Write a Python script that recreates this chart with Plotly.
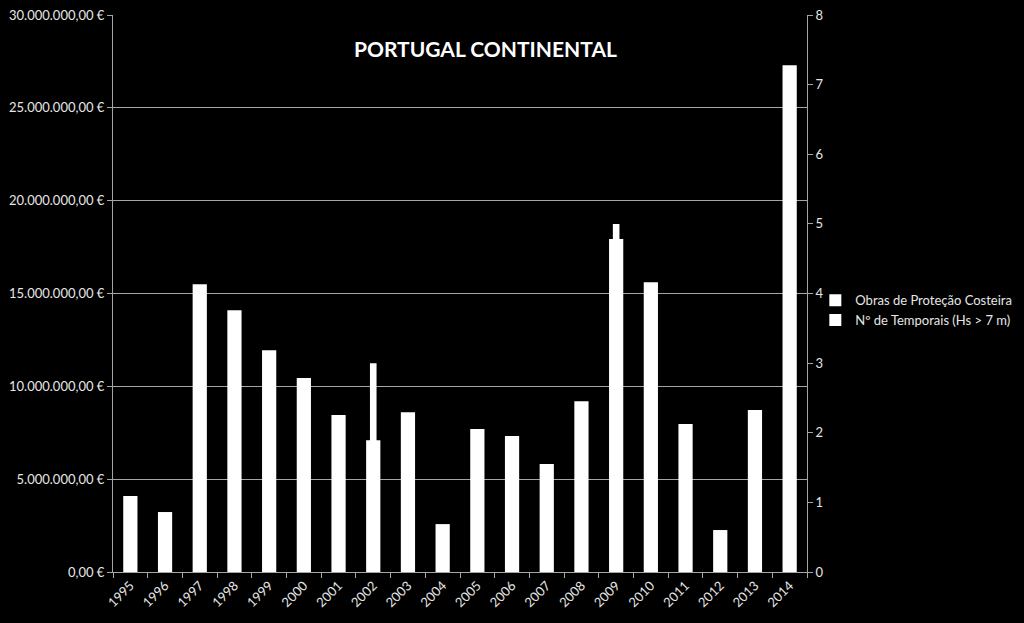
import plotly.graph_objects as go

years = [str(y) for y in range(1995, 2015)]
obras = [4.09e6, 3.23e6, 15.5e6, 14.1e6, 11.95e6, 10.45e6, 8.45e6, 7.1e6, 8.6e6, 2.58e6,
         7.7e6, 7.32e6, 5.82e6, 9.2e6, 17.93e6, 15.6e6, 7.97e6, 2.26e6, 8.72e6, 27.3e6]
temporais = [1, 0, 2, 3, 3, 2, 1, 3, 2, 0, 1, 1, 1, 2, 5, 3, 2, 0, 2, 6]

left_ticks = [0, 5e6, 10e6, 15e6, 20e6, 25e6, 30e6]
left_labels = ["0,00 €", "5.000.000,00 €", "10.000.000,00 €", "15.000.000,00 €",
               "20.000.000,00 €", "25.000.000,00 €", "30.000.000,00 €"]

font_fam = "Lato, 'Open Sans', sans-serif"
txt = "#e6e6e6"
line_c = "#a6a6a6"

fig = go.Figure()
fig.add_trace(go.Bar(x=years, y=obras, name="Obras de Proteção Costeira",
                     marker=dict(color="white", line=dict(width=0)), width=0.41,
                     yaxis="y"))
fig.add_trace(go.Bar(x=years, y=temporais, name="Nº de Temporais (Hs > 7 m)",
                     marker=dict(color="white", line=dict(width=0)), width=0.19,
                     yaxis="y2"))

fig.update_layout(
    width=1024, height=623,
    paper_bgcolor="black", plot_bgcolor="black",
    margin=dict(l=113, r=217, t=15, b=51, autoexpand=False),
    barmode="overlay",
    showlegend=True,
    legend=dict(x=1.012, y=0.47, xanchor="left", yanchor="middle",
                font=dict(family=font_fam, size=13, color=txt),
                bgcolor="rgba(0,0,0,0)", itemsizing="constant",
                itemwidth=30, tracegroupgap=10),
    font=dict(family=font_fam, color=txt, size=12),
    xaxis=dict(type="category", tickangle=-45, tickson="boundaries",
               ticks="outside", ticklen=5, tickcolor=line_c,
               showline=True, linecolor=line_c, linewidth=1,
               showgrid=False, tickfont=dict(family=font_fam, size=13, color=txt)),
    yaxis=dict(range=[0, 30e6], tickvals=left_ticks, ticktext=left_labels,
               ticks="outside", ticklen=5, tickcolor=line_c,
               showline=True, linecolor=line_c, linewidth=1,
               showgrid=True, gridcolor=line_c, gridwidth=1, zeroline=False,
               tickfont=dict(family=font_fam, size=13, color=txt)),
    yaxis2=dict(range=[0, 8], overlaying="y", side="right", dtick=1,
                ticks="outside", ticklen=5, tickcolor=line_c,
                showline=True, linecolor=line_c, linewidth=1,
                showgrid=False, zeroline=False,
                tickfont=dict(family=font_fam, size=13, color=txt)),
    annotations=[dict(text="<b>PORTUGAL CONTINENTAL</b>", x=(485 - 113) / 694,
                      y=(572 - 48) / 557, xref="paper", yref="paper",
                      xanchor="center", yanchor="middle", showarrow=False,
                      font=dict(family=font_fam, size=21, color="white"))],
)

fig.write_html("out.html")
